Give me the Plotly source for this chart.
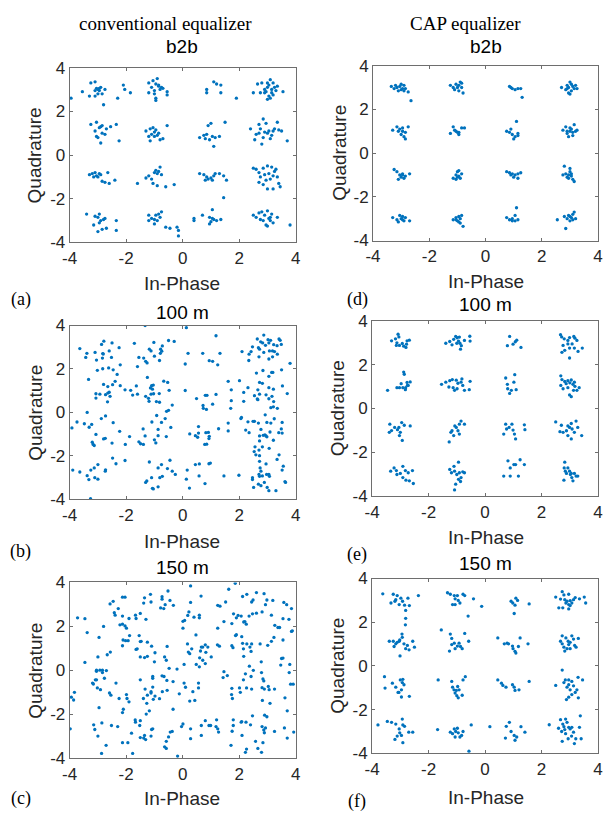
import plotly.graph_objects as go

W, H = 608, 822

column_titles = ["conventional equalizer", "CAP equalizer"]
panel_titles = ["b2b", "100 m", "150 m", "b2b", "100 m", "150 m"]
panel_letters = ["(a)", "(b)", "(c)", "(d)", "(e)", "(f)"]
tick_vals = [-4, -2, 0, 2, 4]
tick_text = ["-4", "-2", "0", "2", "4"]
x_title = "In-Phase"
y_title = "Quadrature"

# (a) conventional, b2b
pts_a = [
    (-3.25,3.3),(-3.1,3.35),(-3.05,3.05),(-2.95,2.95),(-2.9,3.1),(-3.1,2.95),(-3.0,2.8),(-2.75,3.0),(-2.85,2.8),(-3.3,2.7),
    (-3.55,2.9),(-2.8,2.3),(-3.1,2.7),(-3.95,2.6),(-2.3,2.6),(-2.1,3.2),(-2.05,3.0),(-1.85,2.85),(-3.0,3.0),(-2.95,3.05),
    (-1.2,3.3),(-1.05,3.4),(-0.95,3.25),(-0.9,3.5),(-0.85,3.15),(-0.75,3.1),(-0.7,3.05),(-0.8,3.0),(-1.0,2.95),(-1.0,2.8),
    (-0.95,2.6),(-0.95,2.5),(-1.2,2.85),(-0.55,2.9),(-0.55,2.75),(-1.1,3.1),(-0.85,3.2),
    (0.85,3.0),(0.85,2.85),(1.1,3.35),(1.2,3.25),(1.35,3.2),(1.35,2.85),(1.9,2.6),
    (2.5,2.85),(2.65,3.25),(2.8,3.3),(2.75,2.85),(2.9,3.0),(3.0,3.1),(3.05,3.2),(3.1,3.45),(3.15,3.0),(3.2,3.3),
    (3.25,3.1),(3.3,2.95),(3.35,3.15),(3.05,2.7),(3.1,2.6),(3.0,2.55),(2.9,2.85),(3.15,2.85),(3.55,2.9),(3.0,3.3),
    (2.95,2.9),(3.2,2.75),
    (-3.25,1.4),(-3.05,1.5),(-2.9,1.3),(-2.85,1.35),(-2.95,1.25),(-3.05,0.85),(-3.0,0.8),(-2.75,0.95),(-2.7,1.2),(-2.55,1.3),
    (-2.35,1.4),(-2.9,0.55),(-2.25,0.65),(-3.1,1.1),(-2.85,1.0),
    (-1.3,1.1),(-1.15,1.2),(-1.05,1.25),(-0.95,1.15),(-1.1,0.95),(-0.9,0.9),(-1.0,1.05),(-0.85,1.0),(-1.2,0.85),(-1.15,0.65),
    (-0.8,0.7),(-0.7,0.75),(-0.55,1.35),(-1.0,0.85),
    (0.6,0.8),(0.75,0.9),(0.85,0.95),(0.9,1.35),(1.0,1.45),(1.05,0.85),(1.15,0.8),(1.3,0.85),(0.95,0.7),(1.1,0.4),(1.5,1.5),(0.8,0.75),
    (2.4,1.2),(2.55,0.7),(2.6,0.95),(2.7,1.4),(2.75,1.2),(2.85,1.65),(2.95,1.45),(3.0,1.0),(3.05,1.1),(2.85,0.8),
    (2.8,0.5),(3.1,0.75),(3.2,1.1),(3.25,1.2),(3.35,1.5),(3.4,1.15),(3.5,1.1),(3.15,0.9),(3.7,0.65),(2.9,1.05),(2.7,1.0),
    (-3.3,-0.9),(-3.2,-0.85),(-3.1,-0.8),(-3.05,-0.95),(-2.95,-0.85),(-2.9,-0.9),(-3.0,-1.0),(-2.85,-1.2),(-2.75,-1.25),(-2.65,-0.8),
    (-2.6,-1.3),(-2.4,-1.15),(-3.15,-1.0),
    (-1.3,-1.05),(-1.2,-0.95),(-1.1,-1.1),(-1.0,-0.8),(-0.95,-0.7),(-0.85,-0.75),(-0.8,-0.55),(-0.75,-0.9),(-1.05,-1.3),(-0.9,-1.4),
    (-0.6,-1.45),(-0.3,-1.35),(-1.6,-1.3),(-0.9,-0.85),
    (0.6,-0.85),(0.75,-0.9),(0.85,-1.0),(0.9,-1.1),(1.0,-1.05),(1.1,-0.95),(1.15,-0.85),(1.3,-0.85),(1.05,-1.15),(0.8,-1.15),
    (1.45,-0.95),(1.55,-1.15),(1.45,-1.95),
    (2.5,-0.6),(2.6,-0.65),(2.7,-0.8),(2.75,-1.0),(2.85,-0.6),(2.9,-0.9),(3.0,-0.5),(3.05,-0.85),(3.1,-1.1),(3.15,-0.55),
    (3.25,-0.75),(3.3,-0.65),(3.35,-1.0),(2.7,-1.25),(2.85,-1.35),(3.0,-1.55),(3.2,-1.55),(3.4,-1.3),(3.45,-1.45),(2.95,-1.15),(3.2,-0.95),
    (-3.4,-2.7),(-3.1,-2.8),(-3.0,-2.85),(-2.95,-2.7),(-2.9,-3.0),(-2.8,-2.95),(-2.75,-2.9),(-3.15,-3.2),(-3.0,-3.5),(-2.85,-3.4),
    (-2.7,-3.35),(-2.35,-3.0),(-2.35,-3.45),(-2.95,-3.1),
    (-1.2,-2.75),(-1.1,-2.9),(-1.0,-2.95),(-0.95,-2.75),(-0.85,-2.7),(-0.75,-2.6),(-0.9,-3.0),(-1.0,-3.15),(-1.2,-3.0),(-0.6,-3.3),
    (-0.45,-3.35),(-0.2,-3.3),(-0.15,-3.45),(-0.15,-3.7),(-0.8,-2.85),
    (0.4,-2.9),(0.4,-3.0),(0.7,-2.75),(0.95,-2.85),(1.05,-2.5),(1.1,-2.95),(1.2,-3.0),(1.35,-2.95),(0.95,-3.15),(1.0,-3.05),(1.05,-2.9),
    (2.5,-2.75),(2.6,-2.85),(2.7,-2.65),(2.8,-2.6),(2.9,-2.75),(3.0,-2.55),(3.05,-2.9),(3.1,-3.0),(3.15,-2.7),(3.2,-3.1),
    (2.95,-3.2),(3.0,-3.25),(2.85,-3.0),(3.35,-2.85),(3.8,-3.2),(2.75,-2.95),(3.1,-2.85),
]

# (b) conventional, 100 m
pts_b = [
    (-1.33,4.0),(0.13,3.9),(1.18,3.53),(2.87,3.56),(-3.64,2.94),(-2.79,3.28),(-2.87,3.13),(-2.5,3.2),(-1.71,3.18),(-1.02,3.22),
    (-0.5,3.31),(-0.3,3.27),(-0.72,3.06),(-0.78,2.91),(-1.18,2.91),(-1.12,2.83),(-0.74,2.82),(2.64,3.38),(2.76,3.25),(2.83,3.2),
    (3.02,3.35),(3.11,3.32),(3.41,3.38),(3.45,3.32),(3.49,3.13),(3.34,3.07),(3.22,3.12),(3.05,3.2),(2.93,3.09),(2.68,2.98),
    (2.47,3.02),(2.72,2.91),(3.07,2.83),(2.87,2.76),(3.18,2.83),(3.25,2.8),(2.42,2.8),(2.35,2.68),(2.1,2.8),(2.34,2.39),
    (2.7,2.56),(3.05,2.46),(3.18,2.56),(3.35,2.68),(3.8,2.26),
    (-3.39,2.72),(-3.43,2.53),(-3.1,2.76),(-2.83,2.71),(-2.84,2.5),(-2.81,2.69),(-3.05,2.41),(-2.6,2.83),(-2.52,2.53),(-2.25,2.98),
    (-3.02,1.94),(-2.83,2.01),(-2.62,2.05),(-2.46,1.96),(-2.32,1.75),(-2.21,2.19),(-3.33,1.52),
    (-1.55,2.53),(-1.38,2.5),(-1.31,2.35),(-1.26,2.28),(-1.0,2.59),(-0.79,2.72),(-0.82,2.39),(0.09,2.23),(0.19,2.72),(0.71,2.72),
    (0.94,2.38),(1.06,2.35),(1.24,2.19),(1.32,2.72),(-1.6,2.11),
    (-1.25,1.61),(-0.67,1.44),(-0.53,1.38),(-0.48,1.02),(-1.1,1.23),(-1.14,1.13),(-1.04,1.26),(-1.07,1.07),(-1.31,0.74),(-1.12,0.84),
    (-1.03,0.86),(-0.83,0.87),(-1.21,0.65),(-0.93,0.5),(-0.82,0.47),(-1.19,0.51),(-1.64,1.22),(-1.84,1.02),(-1.77,0.8),(-1.6,0.84),
    (-2.8,1.29),(-2.65,1.19),(-2.48,1.28),(-2.21,1.23),(-2.39,1.43),(-2.04,1.04),(-3.07,0.86),(-3.07,0.66),(-2.93,0.84),(-2.73,0.82),
    (-2.65,0.89),(-2.57,0.74),(-2.66,0.49),(-2.6,0.93),
    (1.61,1.43),(2.01,1.46),(2.16,0.92),(2.31,1.14),(2.16,0.51),(1.72,1.04),(1.72,0.54),(1.7,0.19),(2.61,1.81),(2.84,1.93),
    (3.15,1.84),(3.19,1.84),(3.5,1.96),(3.05,1.66),(2.72,1.38),(2.82,1.34),(2.66,1.04),(3.05,1.14),(3.21,1.07),(2.54,0.77),
    (2.64,0.62),(2.66,0.59),(2.95,0.81),(3.16,0.74),(3.05,0.63),(3.22,0.5),(3.12,0.22),(3.21,0.26),(3.35,0.19),(3.53,1.22),
    (3.7,0.87),(2.72,0.84),
    (0.49,0.64),(0.8,0.79),(0.86,0.79),(0.72,0.32),(0.73,0.19),(0.84,0.14),(1.06,0.38),(1.18,0.83),(0.09,1.01),(-0.37,0.34),
    (-0.5,0.1),(-0.57,0.05),
    (-3.38,0.0),(-3.92,-0.71),(-3.74,-0.44),(-3.48,-0.52),(-3.31,-0.68),(-3.22,-0.55),(-2.88,-0.28),(-2.73,-0.16),(-2.46,-0.47),(-3.07,-1.01),
    (-2.74,-1.19),(-2.8,-1.22),(-2.5,-1.41),(-3.2,-1.37),(-3.17,-1.47),(-3.13,-1.52),(-2.23,-0.87),(-2.03,-1.47),(-1.88,-1.11),(-1.55,-1.35),
    (-1.39,-1.47),(-1.49,-1.44),(-1.33,-1.08),(-0.92,-0.14),(-1.09,-0.44),(-0.87,-0.78),(-1.0,-1.26),(-0.95,-1.4),(-0.87,-1.07),(-0.58,-1.11),
    (-0.62,-0.28),(-0.42,-0.69),(-0.75,-0.46),(-1.4,-0.76),
    (0.25,-0.99),(0.45,-1.07),(0.56,-0.95),(0.56,-0.65),(0.53,-1.14),(0.82,-0.93),(0.91,-0.92),(0.94,-1.1),(0.93,-1.2),(0.78,-1.47),
    (0.85,-1.46),(1.27,-0.75),
    (1.61,-0.49),(1.61,-0.85),(2.06,-0.28),(2.08,-0.23),(2.23,-0.81),(2.31,-0.43),(2.35,-0.93),(2.49,-0.41),(2.54,-0.41),(2.68,-0.49),
    (2.77,-0.78),(2.92,-0.11),(2.98,-0.46),(3.12,-0.49),(3.24,-0.29),(3.4,-0.93),(3.52,-0.46),(3.49,-0.76),(3.52,-0.95),(2.72,-1.08),
    (2.85,-1.05),(2.91,-1.03),(2.95,-1.08),(2.98,-1.12),(3.09,-0.9),(3.21,-1.28),(2.72,-1.31),(2.56,-1.58),(2.82,-1.58),
    (-3.89,-2.65),(-3.64,-2.74),(-3.38,-2.91),(-3.32,-3.09),(-3.25,-2.65),(-3.13,-2.55),(-3.11,-3.0),(-3.0,-2.4),(-2.73,-2.64),(-2.74,-2.7),
    (-3.0,-3.07),(-2.48,-2.1),(-2.36,-2.36),(-2.04,-2.21),(-3.26,-3.97),(-1.18,-2.28),(-1.31,-3.22),(-1.27,-3.15),(-1.1,-3.0),(-1.07,-3.49),
    (-1.04,-3.52),(-0.87,-3.42),(-0.87,-2.55),(-0.75,-2.4),(-0.81,-3.0),(-0.72,-2.94),(-0.54,-2.58),(-0.45,-2.2),(-0.37,-2.7),(-0.26,-2.85),
    (0.16,-2.65),(0.24,-3.48),(0.13,-3.07),(0.45,-2.4),(0.59,-2.37),(0.58,-2.92),(0.93,-2.36),(0.98,-2.33),(0.79,-3.27),(1.46,-2.92),
    (1.99,-2.89),(2.47,-3.0),(2.47,-3.09),(2.51,-3.45),(2.53,-1.8),(2.59,-1.95),(2.7,-1.73),(2.72,-1.99),(2.72,-2.25),(2.74,-2.55),
    (2.77,-2.7),(2.7,-2.85),(2.72,-2.94),(2.82,-2.92),(2.68,-3.3),(2.77,-3.37),(2.89,-3.22),(2.95,-2.37),(2.97,-2.85),(3.05,-2.85),
    (3.07,-2.94),(2.99,-3.45),(3.05,-3.6),(3.3,-3.6),(3.34,-2.16),(3.41,-1.95),(3.52,-2.65),(3.56,-2.47),(3.62,-3.18),(3.64,-3.22),(3.06,-1.65),
]

# (c) conventional, 150 m
pts_c = [
    (1.86,3.96),(0.28,3.84),(1.63,3.69),(-0.52,3.61),(1.52,3.11),(2.61,3.54),(2.88,3.49),(2.98,3.2),(3.19,3.18),(2.12,3.36),
    (2.27,3.46),(2.44,3.11),(2.49,3.2),(3.58,3.09),(3.68,2.99),(3.85,2.81),(1.24,2.96),(1.32,2.92),(0.65,3.38),(0.28,3.09),
    (0.4,2.42),(0.59,2.51),(0.59,2.39),(0.22,2.66),(0.01,2.23),(0.01,1.92),(0.07,2.27),(0.18,2.5),(-0.45,3.18),(-0.33,2.96),
    (-0.62,2.99),(-0.78,2.84),(-0.73,3.35),(-0.73,3.24),(-0.67,2.81),(-1.12,3.11),(-1.35,3.3),(-1.38,3.06),(-1.14,3.46),(-1.67,2.51),
    (-1.5,2.59),(-1.65,2.36),(-1.3,2.32),(-2.13,3.33),(-2.04,3.33),(-2.46,3.14),(-2.57,3.02),(-2.28,2.81),(-2.42,2.62),(-2.39,2.51),
    (-2.13,2.47),(-2.22,2.07),(-2.13,2.1),(-2.04,2.02),(-1.99,1.92),(-3.72,2.39),(-3.46,2.35),(-3.38,1.72),(-2.96,1.5),(-2.8,2.0),(-1.9,2.36),
    (-2.11,1.38),(-2.02,1.35),(-1.93,1.35),(-1.88,1.58),(-2.13,1.12),(-1.54,1.58),(-1.5,1.31),(-1.47,1.32),(-1.25,1.28),(-1.61,0.98),
    (-1.65,0.95),(-1.1,1.1),(-0.98,0.8),(-1.5,0.61),(-1.35,0.58),(-1.25,0.64),(-0.55,1.09),(-0.64,0.61),(-0.58,0.46),(-1.0,0.39),
    (-0.48,0.09),(-0.2,0.06),(-2.56,0.83),(-2.67,0.71),(-3.0,0.61),(-3.46,0.36),(-2.93,0.01),(-3.05,0.01),(-2.84,0.01),
    (0.17,1.2),(0.2,0.83),(0.32,0.98),(0.63,0.88),(0.66,1.06),(0.8,1.16),(0.71,1.06),(0.82,0.82),(0.6,0.57),(1.01,0.61),
    (0.59,0.16),(0.48,0.27),(0.05,0.27),(0.71,0.46),(0.8,0.31),(0.25,0.76),(0.89,1.06),(0.47,1.61),
    (1.23,1.16),(1.3,1.1),(1.74,1.12),(1.78,1.03),(1.87,1.58),(1.9,1.62),(2.12,1.23),(2.09,1.53),(2.15,0.98),(2.27,1.2),
    (2.38,1.06),(2.44,1.2),(2.42,0.86),(2.16,0.64),(2.74,1.2),(3.01,1.14),(3.14,1.32),(3.23,1.5),(3.55,1.38),(2.78,0.39),
    (3.55,0.56),(3.5,0.54),(3.47,0.24),(3.79,0.27),(3.85,1.77),(3.88,1.8),(3.37,1.95),(3.43,1.95),(3.55,2.35),(3.76,2.32),
    (3.26,2.05),(3.14,2.51),(2.81,2.66),(2.61,2.6),(2.47,2.57),(2.35,2.47),(2.2,2.22),(2.25,2.1),(2.16,2.2),(1.96,2.5),
    (1.9,2.39),(1.74,2.13),(1.46,2.22),(1.24,1.92),(1.8,2.57),(2.07,2.47),(2.93,2.99),
    (1.46,-0.06),(1.43,-0.33),(1.58,-0.24),(1.74,-0.82),(1.73,-1.1),(1.76,-1.28),(2.01,-0.8),(2.04,-1.0),(2.15,-0.43),(2.22,-0.16),
    (2.36,0.19),(2.42,-0.28),(2.44,-0.85),(2.5,0.0),(2.79,-0.1),(2.84,-0.39),(2.87,-0.48),(2.81,-0.79),(2.89,-0.85),(3.03,-0.73),
    (3.06,-0.88),(2.82,-1.37),(3.09,-1.5),(3.25,-0.85),(3.77,-0.1),(3.82,-0.63),(3.91,-0.63),(3.62,-1.25),(3.7,-1.84),(2.26,-0.8),
    (2.47,-2.07),(2.9,-2.04),(2.98,-2.11),
    (-0.12,-1.07),(0.05,-0.58),(0.1,-0.77),(0.36,-0.97),(0.43,-1.37),(0.25,-1.4),(0.56,-0.58),(0.56,-0.8),(-0.34,-1.77),(-0.04,-2.56),
    (0.01,-2.44),(0.28,-2.66),(0.28,-3.11),(0.8,-2.29),(0.99,-2.51),(0.93,-2.51),(0.66,-2.51),(0.66,-2.96),(1.2,-2.25),(1.24,-2.66),
    (1.27,-2.81),(1.18,-2.56),
    (-3.19,-0.58),(-3.09,-0.43),(-3.05,-0.04),(-3.02,-0.8),(-2.91,-0.88),(-2.77,-0.36),(-2.7,-0.01),(-2.84,-0.1),(-3.05,-0.43),(-3.16,-0.62),
    (-3.83,-1.0),(-3.94,-1.22),(-3.86,-1.35),(-2.96,-1.7),(-2.59,-1.03),(-2.54,-1.13),(-2.36,-0.58),(-2.25,-1.28),(-2.1,-1.77),(-2.13,-1.92),
    (-1.99,-1.1),(-1.97,-1.28),(-1.9,-1.43),(-1.5,-0.43),(-1.33,-0.85),(-1.25,-1.13),(-1.12,-1.03),(-1.12,-0.97),(-1.06,-0.76),(-1.06,-0.36),
    (-1.06,-0.28),(-0.98,-1.17),(-1.04,-1.32),(-0.73,-0.25),(-0.66,-0.28),(-0.56,-0.46),(-0.55,-0.91),(-0.34,-0.51),(-0.82,-1.29),(-1.39,-1.28),
    (-1.29,-1.99),(-1.27,-1.5),(-1.18,-1.84),(-0.72,-0.97),
    (-3.98,-2.66),(-3.15,-2.48),(-3.11,-2.69),(-3.0,-2.99),(-2.86,-2.39),(-2.71,-3.41),(-2.87,-3.78),(-2.52,-2.51),(-2.3,-2.56),(-2.13,-3.29),
    (-1.94,-3.29),(-1.81,-2.86),(-1.77,-3.78),(-1.5,-2.29),(-1.67,-2.36),(-1.52,-2.51),(-1.5,-3.06),(-1.38,-3.08),(-1.35,-2.96),(-1.31,-3.15),
    (-1.1,-2.69),(-1.06,-2.66),(-1.12,-2.99),(-0.64,-3.48),(-0.58,-3.55),(-0.58,-3.23),(-0.5,-3.03),(-0.44,-2.81),(-0.37,-2.78),(-0.18,-3.9),
    (-1.68,-2.26),
    (1.71,-3.41),(1.75,-2.77),(1.79,-2.51),(1.79,-2.25),(2.07,-2.36),(2.09,-2.33),(2.1,-2.96),(2.22,-3.73),(2.26,-3.58),(2.24,-2.36),
    (2.4,-2.48),(2.58,-3.23),(2.66,-3.55),(2.79,-3.73),(2.84,-3.29),(2.81,-2.56),(2.87,-2.71),(2.89,-2.84),(2.93,-2.62),(3.25,-2.78),
    (3.6,-2.62),(3.7,-3.08),(3.93,-2.81),
]

# (d) CAP, b2b
pts_d = [
    (-3.35,3.05),(-3.25,2.95),(-3.15,3.0),(-3.05,3.05),(-3.0,2.9),(-2.9,3.1),(-2.95,2.95),(-3.1,2.85),(-2.85,2.95),(-3.2,3.1),
    (-2.75,2.8),(-2.65,2.4),(-3.0,3.15),(-2.9,2.85),
    (-1.25,3.1),(-1.15,3.0),(-1.05,3.15),(-0.95,3.1),(-0.9,3.25),(-0.85,3.0),(-0.95,2.85),(-1.1,2.9),(-0.8,2.75),(-1.0,3.0),(-0.85,3.2),
    (0.85,3.05),(0.95,2.95),(1.05,2.9),(1.15,2.95),(1.25,2.95),(1.3,2.55),(0.9,3.0),
    (2.7,3.0),(2.85,2.9),(2.9,3.1),(2.95,3.0),(3.0,3.25),(3.05,2.85),(3.1,3.05),(3.15,2.95),(3.2,3.1),(3.25,2.95),
    (2.95,2.75),(3.0,2.7),(3.05,3.15),(2.9,2.95),
    (-3.3,1.05),(-3.15,1.2),(-3.05,1.1),(-2.95,1.0),(-3.0,0.85),(-2.9,0.75),(-2.85,0.65),(-2.75,1.2),(-3.1,1.0),(-2.95,1.15),(-2.85,0.95),
    (-1.25,0.9),(-1.15,1.2),(-1.05,1.0),(-1.0,0.95),(-0.95,0.85),(-0.85,1.15),(-0.75,1.15),(-1.1,1.05),(-0.95,0.95),
    (0.75,1.0),(0.85,0.95),(0.95,0.85),(1.05,0.75),(1.0,0.65),(1.1,1.45),(1.15,0.9),(0.9,1.1),(1.15,0.8),
    (2.75,1.05),(2.85,1.2),(2.9,0.9),(3.0,1.0),(3.05,1.1),(3.1,0.8),(3.15,1.3),(3.2,1.0),(3.25,1.05),(2.95,0.75),
    (3.0,1.15),(2.9,1.0),(3.1,0.95),
    (-3.25,-0.75),(-3.15,-0.85),(-3.05,-1.0),(-3.0,-1.1),(-2.95,-0.95),(-2.9,-1.15),(-2.85,-1.05),(-2.7,-0.95),(-3.1,-1.2),(-2.95,-1.0),
    (-1.15,-1.15),(-1.05,-1.0),(-1.0,-0.85),(-0.95,-1.05),(-0.9,-1.15),(-0.85,-0.95),(-1.05,-1.2),(-0.95,-0.8),(-1.0,-1.1),
    (0.75,-0.85),(0.85,-0.9),(0.95,-0.95),(1.05,-1.0),(1.15,-0.95),(1.25,-0.9),(1.0,-1.1),(1.15,-1.15),(0.9,-1.0),
    (2.75,-1.0),(2.8,-0.6),(2.85,-0.95),(2.9,-1.1),(2.95,-1.0),(3.0,-0.85),(3.05,-1.05),(3.1,-1.2),(3.15,-1.3),(3.0,-0.7),
    (2.95,-1.15),(3.05,-0.95),
    (-3.3,-2.95),(-3.15,-3.05),(-3.05,-2.85),(-3.0,-3.0),(-2.95,-2.9),(-2.9,-3.1),(-2.85,-2.95),(-2.7,-3.1),(-3.1,-3.15),(-2.95,-3.05),
    (-1.15,-3.05),(-1.05,-2.95),(-1.0,-3.1),(-0.95,-2.9),(-0.9,-3.0),(-0.85,-2.85),(-0.9,-3.2),(-0.8,-3.35),(-1.05,-3.05),(-0.95,-3.15),
    (0.75,-2.95),(0.85,-3.05),(0.95,-3.1),(1.05,-2.85),(1.1,-2.5),(1.15,-3.05),(0.95,-3.0),(1.05,-3.1),
    (2.55,-3.05),(2.8,-2.9),(2.9,-3.0),(2.95,-2.85),(3.0,-3.1),(3.05,-2.95),(3.1,-2.8),(3.15,-2.7),(3.2,-3.0),(2.85,-3.45),
    (3.0,-2.9),(3.1,-3.05),
]

# (e) CAP, 100 m
pts_e = [
    (-3.31,3.08),(-3.17,3.17),(-3.08,3.38),(-3.05,3.26),(-3.12,2.99),(-3.03,2.87),(-3.14,2.87),(-2.93,2.96),(-2.76,3.08),(-2.78,2.93),
    (-2.8,2.78),(-2.68,3.11),(-2.88,2.84),
    (-1.39,2.97),(-1.25,3.05),(-1.11,3.15),(-1.04,3.28),(-0.99,3.22),(-0.94,3.07),(-0.89,2.97),(-1.0,2.97),(-1.17,2.9),(-0.84,2.86),
    (-0.87,2.7),(-0.73,3.1),(-0.54,3.29),(-0.53,3.07),(-0.91,3.25),
    (0.87,3.28),(0.79,2.86),(0.99,2.93),(1.07,3.04),(1.12,3.11),(1.27,2.78),
    (2.67,3.36),(2.71,3.26),(2.8,3.17),(2.93,3.1),(2.99,3.23),(3.14,3.28),(3.18,3.2),(3.08,2.94),(3.25,3.1),(2.93,2.94),
    (2.76,2.87),(2.82,2.65),(2.72,2.56),(2.99,2.75),(3.16,2.75),(3.29,2.6),(3.44,2.75),(2.99,2.3),
    (-3.45,0.83),(-3.12,0.95),(-3.03,0.95),(-2.97,1.13),(-2.88,1.66),(-2.86,1.56),(-2.76,1.19),(-2.72,1.05),(-2.81,0.95),(-2.91,0.95),
    (-2.82,0.86),(-2.65,1.21),(-2.75,1.05),
    (-1.54,1.1),(-1.39,1.2),(-1.25,1.27),(-1.16,1.32),(-1.13,0.95),(-1.08,0.83),(-0.99,0.9),(-0.96,1.15),(-0.85,1.2),(-0.82,1.35),
    (-0.79,1.05),(-0.73,0.83),(-0.56,0.86),(-0.53,1.24),(-1.02,1.29),(-1.28,0.98),
    (0.73,1.39),(0.79,1.1),(0.8,0.9),(0.87,0.69),(0.93,0.83),(1.02,1.2),(1.05,1.54),(1.1,0.86),
    (2.68,1.49),(2.72,1.32),(2.82,1.23),(2.87,1.13),(2.93,1.27),(3.0,1.17),(3.05,1.3),(3.11,1.1),(3.16,1.2),(3.18,1.01),
    (2.68,1.05),(2.76,0.9),(2.93,0.95),(3.05,0.54),(2.99,0.62),(3.25,0.83),(3.33,0.95),(3.13,0.83),
    (-3.37,-0.71),(-3.31,-1.0),(-3.39,-1.08),(-3.2,-0.86),(-3.1,-0.96),(-3.05,-0.86),(-3.0,-1.08),(-3.03,-1.23),(-2.93,-1.45),(-2.86,-0.76),
    (-2.65,-0.79),(-2.95,-0.64),
    (-1.27,-1.52),(-1.21,-1.08),(-1.17,-1.01),(-1.11,-1.23),(-1.02,-0.86),(-0.96,-1.01),(-0.91,-0.71),(-0.85,-0.57),(-0.73,-0.71),(-0.91,-1.16),(-1.07,-0.79),
    (0.73,-0.71),(0.76,-0.93),(0.85,-0.86),(0.95,-0.71),(0.99,-0.98),(1.04,-1.16),(1.08,-1.38),(1.39,-0.74),(1.41,-0.96),(0.66,-1.16),
    (2.5,-0.61),(2.7,-0.76),(2.76,-1.08),(2.88,-1.01),(2.93,-0.79),(2.99,-0.86),(3.05,-0.68),(3.08,-0.93),(3.16,-1.08),(3.22,-0.57),
    (3.28,-0.86),(3.42,-1.23),(3.05,-1.38),(2.93,-1.23),(2.65,-1.05),
    (-3.34,-2.85),(-3.22,-2.7),(-3.14,-2.82),(-3.12,-3.0),(-3.0,-2.95),(-2.91,-2.63),(-2.91,-3.14),(-2.82,-2.82),(-2.72,-2.92),(-2.57,-2.82),
    (-2.68,-3.29),(-2.54,-3.41),(-2.8,-3.26),
    (-1.25,-2.77),(-1.19,-2.92),(-1.08,-2.85),(-0.94,-2.44),(-1.0,-3.0),(-0.91,-2.92),(-0.85,-3.14),(-0.79,-2.88),(-0.73,-2.92),(-0.87,-3.32),
    (-1.04,-3.44),(-1.08,-3.7),(-0.94,-3.22),(-1.1,-2.63),
    (0.66,-3.07),(0.81,-2.38),(0.89,-2.7),(0.89,-3.07),(1.02,-2.55),(1.08,-2.55),(1.18,-3.07),(1.24,-2.33),(1.39,-2.55),
    (2.82,-2.44),(2.8,-2.7),(2.84,-2.85),(2.88,-2.95),(2.79,-3.26),(2.99,-2.85),(3.05,-2.95),(3.07,-3.14),(3.16,-2.95),(3.22,-3.07),
    (3.28,-3.07),(3.11,-3.29),(2.93,-2.7),(3.02,-3.0),
]

# (f) CAP, 150 m
pts_f = [
    (-3.62,3.3),(-3.25,3.28),(-3.11,3.22),(-3.16,3.03),(-3.19,2.96),(-3.33,2.88),(-2.98,3.1),(-2.92,2.96),(-3.04,2.81),(-2.85,2.78),
    (-2.73,3.1),(-2.68,2.76),(-2.81,2.54),(-2.36,3.22),(-2.81,2.18),(-2.82,1.88),
    (-1.33,3.35),(-1.23,3.28),(-1.09,3.22),(-0.98,3.22),(-1.06,3.07),(-0.95,3.0),(-0.89,2.88),(-1.15,2.81),(-1.06,2.81),(-0.72,3.22),
    (-0.78,3.28),(-0.41,3.07),(-0.6,2.28),(-0.12,2.73),
    (0.92,2.96),(0.98,2.88),(1.09,3.1),(1.15,3.0),(1.06,2.78),(1.03,2.4),(1.56,2.84),
    (2.5,3.15),(2.67,3.06),(2.73,3.4),(2.79,3.25),(2.82,3.03),(2.9,2.96),(2.96,3.28),(3.01,2.99),(3.07,2.88),(3.13,3.03),
    (3.19,3.13),(3.34,3.07),(3.51,3.15),(3.56,2.88),(2.61,2.66),(2.75,2.66),(2.96,2.61),(3.01,2.76),(2.86,2.88),(2.96,2.81),
    (-3.39,1.13),(-3.25,1.13),(-3.22,0.89),(-3.16,1.01),(-3.04,1.13),(-3.02,1.19),(-2.94,1.46),(-2.93,1.31),(-2.87,1.01),(-2.81,0.79),
    (-2.69,0.74),(-2.56,1.13),(-2.5,0.86),(-3.01,0.46),(-3.11,1.08),(-2.75,0.94),
    (-1.55,1.65),(-1.23,1.46),(-1.18,1.26),(-1.09,1.04),(-1.06,0.79),(-0.98,0.91),(-0.92,1.04),(-0.87,0.89),(-0.81,0.79),(-0.72,1.49),
    (-0.58,1.13),(-1.26,0.68),(-1.18,0.98),
    (0.45,1.28),(0.68,1.01),(0.78,1.04),(0.83,1.01),(0.97,0.91),(0.99,0.79),(1.06,0.67),(1.09,0.59),(1.24,1.28),(1.52,1.01),(1.18,0.89),
    (2.67,1.13),(2.73,1.38),(2.79,0.86),(2.82,0.68),(2.86,1.28),(2.94,1.13),(2.96,0.98),(3.01,1.08),(3.07,1.38),(3.13,1.23),
    (3.17,0.94),(3.22,0.86),(3.3,1.26),(3.01,0.79),(2.73,1.01),(2.9,0.79),
    (-3.56,-0.49),(-3.54,-1.01),(-3.28,-0.79),(-3.16,-0.97),(-3.08,-1.21),(-3.0,-0.64),(-2.96,-1.09),(-2.93,-0.76),(-2.91,-0.61),(-2.87,-0.86),
    (-2.96,-1.42),(-2.68,-1.39),(-3.05,-1.21),
    (-1.66,-0.64),(-1.18,-0.71),(-1.15,-0.97),(-1.1,-1.09),(-1.06,-1.24),(-1.02,-1.12),(-0.97,-0.94),(-0.92,-1.09),(-1.0,-1.36),(-0.95,-1.46),
    (-0.81,-1.34),(-0.78,-0.64),(-0.7,-0.49),
    (0.45,-0.64),(0.58,-0.79),(0.63,-0.89),(0.74,-0.97),(0.97,-0.86),(1.03,-0.97),(1.06,-1.12),(1.2,-1.09),(1.56,-0.71),
    (2.5,-0.89),(2.73,-0.19),(2.79,-0.76),(2.84,-0.64),(2.9,-0.97),(2.96,-0.86),(3.01,-1.09),(3.07,-0.71),(3.13,-0.91),(3.19,-1.21),
    (3.25,-1.09),(2.88,-1.54),(2.96,-1.43),(3.07,-1.31),(3.3,-1.46),(3.29,-0.52),(3.45,-0.64),(2.96,-0.64),
    (-3.79,-2.7),(-3.46,-2.54),(-3.31,-2.58),(-3.16,-2.66),(-3.04,-2.88),(-3.02,-3.06),(-2.93,-2.43),(-2.91,-2.7),(-2.85,-2.76),(-2.96,-3.18),
    (-3.11,-3.21),(-3.19,-3.36),(-2.91,-3.51),(-2.7,-3.03),(-2.56,-3.03),
    (-1.68,-2.91),(-1.23,-3.03),(-1.15,-3.1),(-1.09,-2.88),(-1.04,-3.0),(-0.98,-2.85),(-0.95,-3.06),(-0.89,-3.25),(-1.06,-3.25),(-0.83,-3.18),
    (-0.78,-3.0),(-0.49,-2.7),(-0.57,-3.9),
    (0.17,-2.78),(0.75,-2.76),(0.72,-3.3),(0.86,-2.58),(0.92,-3.0),(1.03,-3.18),(1.06,-3.4),(1.12,-3.25),(1.27,-2.78),(1.41,-3.03),
    (2.27,-2.69),(2.6,-2.85),(2.67,-2.46),(2.71,-3.0),(2.75,-2.66),(2.79,-2.78),(2.82,-2.91),(2.85,-3.1),(2.9,-2.58),(2.96,-2.81),
    (3.01,-2.88),(3.07,-2.81),(3.13,-3.03),(3.21,-3.33),(3.16,-3.55),(3.34,-2.81),(3.37,-2.28),(3.4,-3.33),(2.73,-3.45),(2.94,-3.33),
    (3.06,-3.21),(2.85,-2.43),
]

panels = [pts_a, pts_b, pts_c, pts_d, pts_e, pts_f]

# layout in pixels: (left, right, top, bottom)
boxes = [
    (63, 294, 60, 239),
    (63, 294, 324, 502),
    (63, 294, 587, 767),
    (373, 603, 58, 237),
    (372, 603, 319, 499),
    (372, 603, 583, 762),
]

def px(x):
    return x / W

def py(y):
    return 1 - y / H

MARK = "#0072BD"
AX = "#6e6e6e"
TXT = "#262626"

fig = go.Figure()
layout = {}
for i, (pts, box) in enumerate(zip(panels, boxes)):
    n = i + 1
    xs = [p[0] for p in pts]
    ys = [p[1] for p in pts]
    fig.add_trace(go.Scatter(
        x=xs, y=ys, mode="markers",
        marker=dict(size=3.3, color=MARK),
        xaxis=f"x{n}", yaxis=f"y{n}", showlegend=False,
        hoverinfo="skip",
    ))
    l, r, t, b = box
    common = dict(
        range=[-4, 4], tickvals=tick_vals, ticktext=tick_text,
        showgrid=False, zeroline=False, showline=True, mirror="allticks",
        linecolor=AX, linewidth=1, ticks="inside", ticklen=3, tickcolor=AX,
        tickfont=dict(family="Arial, Liberation Sans, sans-serif", size=17, color=TXT),
        fixedrange=True,
    )
    layout[f"xaxis{n}"] = dict(domain=[px(l), px(r)], anchor=f"y{n}", **common)
    layout[f"yaxis{n}"] = dict(domain=[py(b), py(t)], anchor=f"x{n}", **common)

annotations = []
sans = "Arial, Liberation Sans, sans-serif"
serif = "Times New Roman, Liberation Serif, serif"

# column headers
annotations.append(dict(text=column_titles[0], x=px(161), y=py(15), font=dict(family=serif, size=19, color="black")))
annotations.append(dict(text=column_titles[1], x=px(468), y=py(15), font=dict(family=serif, size=19, color="black")))

title_pos = [(178, 38), (178, 311), (178, 572), (488, 38), (488, 303), (488, 568)]
xlab_pos = [(178, 281), (178, 545), (178, 808), (488, 279), (488, 541), (488, 807)]
ylab_x = [27, 28, 28, 338, 337, 337]
letter_pos = [(13, 297), (13, 555), (13, 808), (357, 297), (357, 558), (357, 811)]

for i in range(6):
    l, r, t, b = boxes[i]
    annotations.append(dict(text=panel_titles[i], x=px(title_pos[i][0]), y=py(title_pos[i][1]),
                            font=dict(family=sans, size=19, color="black"), borderpad=0))
    annotations.append(dict(text=x_title, x=px(xlab_pos[i][0]), y=py(xlab_pos[i][1]),
                            font=dict(family=sans, size=19, color=TXT), borderpad=0))
    annotations.append(dict(text=y_title, x=px(ylab_x[i]), y=py((t + b) / 2), textangle=-90,
                            font=dict(family=sans, size=19, color=TXT), borderpad=0))
    annotations.append(dict(text=panel_letters[i], x=px(letter_pos[i][0]), y=py(letter_pos[i][1]),
                            font=dict(family=serif, size=18, color="black"), borderpad=0))

for a in annotations:
    a.update(xref="paper", yref="paper", showarrow=False, xanchor="center", yanchor="middle")

fig.update_layout(
    width=W, height=H,
    margin=dict(l=0, r=0, t=0, b=0),
    paper_bgcolor="white", plot_bgcolor="white",
    annotations=annotations,
    **layout,
)

fig.write_html("out.html", config={"displayModeBar": False})
